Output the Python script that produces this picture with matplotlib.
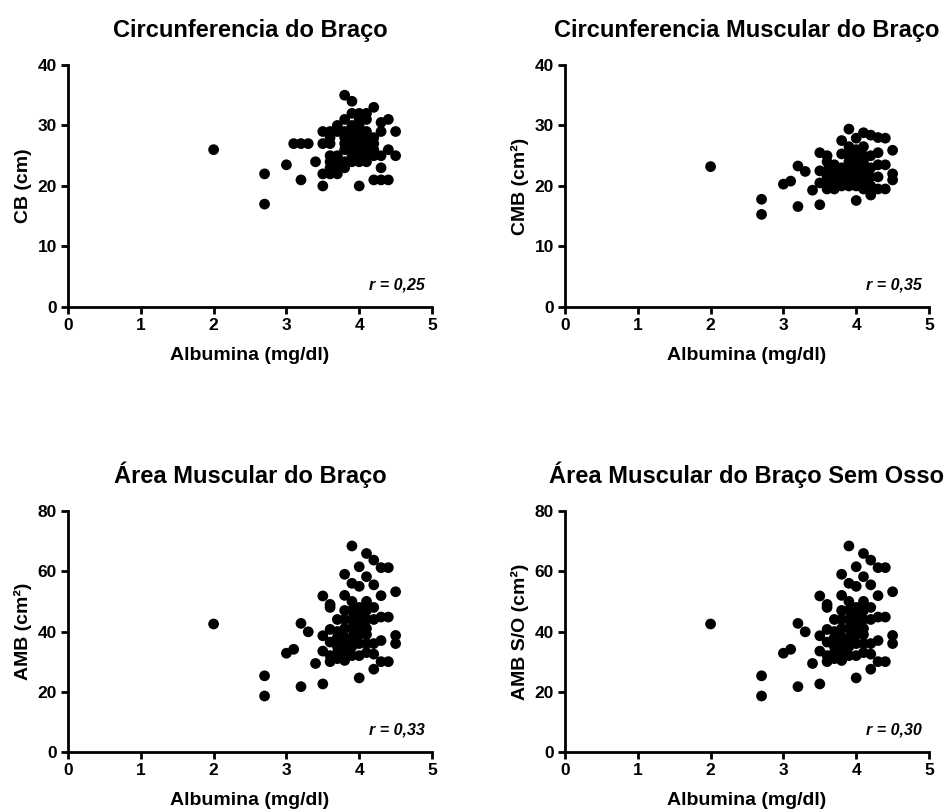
import matplotlib
matplotlib.use("Agg")
import matplotlib.pyplot as plt

plt.rcParams['font.family'] = ['Liberation Sans', 'DejaVu Sans']
plt.rcParams['font.weight'] = 'bold'

# Circunferencia do Braço (CB)
cb_x = [2.0, 2.7, 2.7, 3.0, 3.1, 3.2, 3.3, 3.2, 3.4, 3.5, 3.5, 3.5, 3.5,
        3.6, 3.6, 3.6, 3.6, 3.6, 3.6, 3.6,
        3.7, 3.7, 3.7, 3.7, 3.7, 3.7, 3.7,
        3.8, 3.8, 3.8, 3.8, 3.8, 3.8, 3.8, 3.8,
        3.9, 3.9, 3.9, 3.9, 3.9, 3.9, 3.9, 3.9, 3.9,
        4.0, 4.0, 4.0, 4.0, 4.0, 4.0, 4.0, 4.0, 4.0, 4.0,
        4.1, 4.1, 4.1, 4.1, 4.1, 4.1, 4.1, 4.1,
        4.2, 4.2, 4.2, 4.2, 4.2, 4.2,
        4.3, 4.3, 4.3, 4.3, 4.3,
        4.4, 4.4, 4.4,
        4.5, 4.5]
cb_y = [26, 22, 17, 23.5, 27, 27, 27, 21, 24, 20, 22, 27, 29,
        22, 23, 24, 25, 27, 28, 29,
        22, 23, 24, 24.5, 25, 29, 30,
        23, 24, 26, 27, 28, 29, 31, 35,
        24, 25, 26, 27, 28, 29, 30, 32, 34,
        20, 24, 25, 26, 27, 28, 29, 30, 31, 32,
        24, 25, 26, 27, 28, 29, 31, 32,
        21, 25, 26, 27, 28, 33,
        21, 23, 25, 29, 30.5,
        21, 26, 31,
        25, 29]

# Circunferencia Muscular do Braço (CMB)
cmb_x = [2.0, 2.7, 2.7, 3.0, 3.1, 3.2, 3.3, 3.2, 3.4, 3.5, 3.5, 3.5, 3.5,
         3.6, 3.6, 3.6, 3.6, 3.6, 3.6,
         3.7, 3.7, 3.7, 3.7, 3.7,
         3.8, 3.8, 3.8, 3.8, 3.8, 3.8,
         3.9, 3.9, 3.9, 3.9, 3.9, 3.9, 3.9, 3.9,
         4.0, 4.0, 4.0, 4.0, 4.0, 4.0, 4.0, 4.0, 4.0,
         4.1, 4.1, 4.1, 4.1, 4.1, 4.1, 4.1, 4.1,
         4.2, 4.2, 4.2, 4.2, 4.2, 4.2,
         4.3, 4.3, 4.3, 4.3, 4.3,
         4.4, 4.4, 4.4,
         4.5, 4.5, 4.5]
cmb_y = [23.2, 17.8, 15.3, 20.3, 20.8, 23.3, 22.4, 16.6, 19.3, 16.9, 25.5, 22.5, 20.5,
         19.5, 20.5, 21.5, 22.5, 24, 25,
         19.5, 20.5, 21.5, 22.5, 23.5,
         20, 21, 22, 23, 25.3, 27.5,
         20, 21, 22, 23, 24, 25, 26.5, 29.4,
         17.6, 20, 21, 22, 23, 24, 25, 26, 27.9,
         19.5, 21, 22, 23, 24, 25, 26.5, 28.8,
         18.5, 20, 21.5, 23, 25, 28.4,
         19.5, 21.5, 23.5, 25.5, 28,
         19.5, 23.5, 27.9,
         21, 22, 25.9]

# Área Muscular do Braço (AMB)
amb_x = [2.0, 2.7, 2.7, 3.0, 3.1, 3.2, 3.3, 3.2, 3.4, 3.5, 3.5, 3.5, 3.5,
         3.6, 3.6, 3.6, 3.6, 3.6, 3.6,
         3.7, 3.7, 3.7, 3.7, 3.7, 3.7,
         3.8, 3.8, 3.8, 3.8, 3.8, 3.8, 3.8, 3.8, 3.8,
         3.9, 3.9, 3.9, 3.9, 3.9, 3.9, 3.9, 3.9, 3.9,
         4.0, 4.0, 4.0, 4.0, 4.0, 4.0, 4.0, 4.0, 4.0,
         4.1, 4.1, 4.1, 4.1, 4.1, 4.1, 4.1, 4.1, 4.1,
         4.2, 4.2, 4.2, 4.2, 4.2, 4.2, 4.2,
         4.3, 4.3, 4.3, 4.3, 4.3,
         4.4, 4.4, 4.4,
         4.5, 4.5, 4.5]
amb_y = [42.5, 25.3, 18.6, 32.8, 34.1, 42.7, 39.9, 21.7, 29.4, 22.6, 51.8, 38.6, 33.5,
         30, 32, 36.5, 40.7, 48, 49,
         31, 33, 35, 38, 40, 44,
         30.4, 33.1, 36, 38, 41, 44, 47, 52, 59,
         32, 35, 38, 41, 44, 47, 50, 56, 68.4,
         24.6, 32, 36, 39, 42, 45, 48, 55, 61.5,
         33, 36, 39, 41, 44, 47, 50, 58.2, 65.9,
         27.5, 32.5, 36, 44, 48, 55.5, 63.7,
         30, 37, 44.8, 51.9, 61.2,
         30, 44.8, 61.2,
         36, 38.7, 53.2]

# Área Muscular do Braço Sem Osso (AMB S/O)
ambso_x = list(amb_x)
ambso_y = [42.5, 25.3, 18.6, 32.8, 34.1, 42.7, 39.9, 21.7, 29.4, 22.6, 51.8, 38.6, 33.5,
           30, 32, 36.5, 40.7, 48, 49,
           31, 33, 35, 38, 40, 44,
           30.4, 33.1, 36, 38, 41, 44, 47, 52, 59,
           32, 35, 38, 41, 44, 47, 50, 56, 68.4,
           24.6, 32, 36, 39, 42, 45, 48, 55, 61.5,
           33, 36, 39, 41, 44, 47, 50, 58.2, 65.9,
           27.5, 32.5, 36, 44, 48, 55.5, 63.7,
           30, 37, 44.8, 51.9, 61.2,
           30, 44.8, 61.2,
           36, 38.7, 53.2]

panels = [
    ("Circunferencia do Braço", "CB (cm)", cb_x, cb_y, 40, [0, 10, 20, 30, 40], "r = 0,25"),
    ("Circunferencia Muscular do Braço", "CMB (cm²)", cmb_x, cmb_y, 40, [0, 10, 20, 30, 40], "r = 0,35"),
    ("Área Muscular do Braço", "AMB (cm²)", amb_x, amb_y, 80, [0, 20, 40, 60, 80], "r = 0,33"),
    ("Área Muscular do Braço Sem Osso", "AMB S/O (cm²)", ambso_x, ambso_y, 80, [0, 20, 40, 60, 80], "r = 0,30"),
]

fig = plt.figure(figsize=(9.47, 8.11), dpi=100)
positions = [
    [0.0718, 0.6215, 0.3844, 0.2984],
    [0.5966, 0.6215, 0.3844, 0.2984],
    [0.0718, 0.0727, 0.3844, 0.2972],
    [0.5966, 0.0727, 0.3844, 0.2972],
]

for pos, (title, ylabel, xs, ys, ymax, yticks, rtext) in zip(positions, panels):
    ax = fig.add_axes(pos)
    ax.scatter(xs, ys, s=60, color='black', edgecolors='none', clip_on=False, zorder=3)
    ax.set_xlim(0, 5)
    ax.set_ylim(0, ymax)
    ax.set_xticks([0, 1, 2, 3, 4, 5])
    ax.set_yticks(yticks)
    for side in ['top', 'right']:
        ax.spines[side].set_visible(False)
    for side in ['left', 'bottom']:
        ax.spines[side].set_linewidth(2)
    ax.tick_params(direction='out', length=5, width=2, labelsize=12.5, pad=3)
    ax.set_title(title, fontsize=17, fontweight='bold', pad=20)
    ax.set_xlabel("Albumina (mg/dl)", fontsize=14, fontweight='bold', labelpad=10)
    ax.set_ylabel(ylabel, fontsize=14, fontweight='bold', labelpad=4)
    ax.text(0.98, 0.09, rtext, transform=ax.transAxes, ha='right', va='center',
            fontsize=11.5, fontweight='bold', style='italic')

fig.savefig("out.png", dpi=100)
